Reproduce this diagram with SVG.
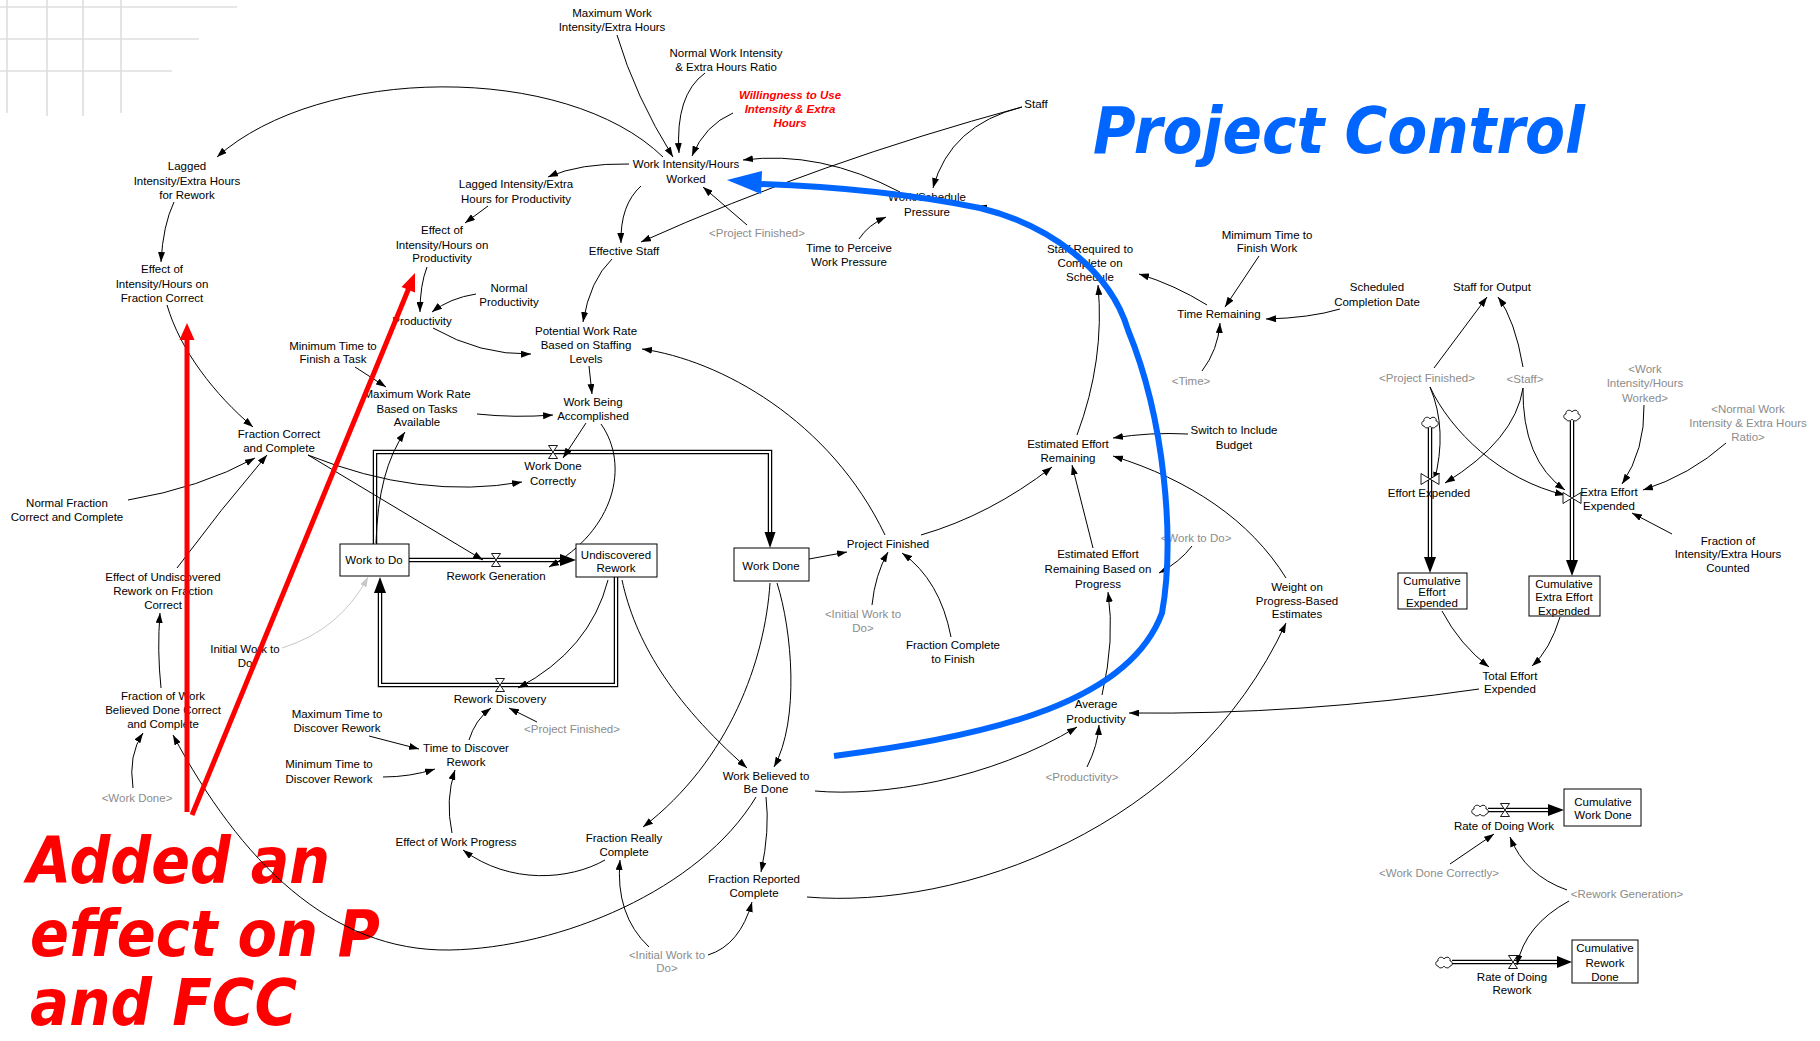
<svg xmlns="http://www.w3.org/2000/svg" width="1820" height="1041" viewBox="0 0 1820 1041">
<defs>
<style>
.t{font-family:"Liberation Sans",Arial,sans-serif;font-size:11.5px;fill:#000;text-anchor:middle}
.g{fill:#8c8c8c}
.w{fill:#ff0000;font-weight:bold;font-style:italic}
.c{fill:none;stroke:#000;stroke-width:1;marker-end:url(#ah)}
.cg{fill:none;stroke:#c8c8c8;stroke-width:1;marker-end:url(#ahg)}
.po{fill:none;stroke:#000;stroke-width:4.5}
.pi{fill:none;stroke:#fff;stroke-width:2}
.box{fill:#fff;stroke:#000;stroke-width:1}
.vl{fill:#fff;stroke:#000;stroke-width:0.9}
.big{font-family:"DejaVu Sans",Verdana,sans-serif;font-weight:bold;font-style:italic}
.grid{stroke:#dedede;stroke-width:1.6;fill:none}
</style>
<marker id="ah" viewBox="0 0 10 7" refX="10" refY="3.5" markerWidth="10" markerHeight="7" markerUnits="userSpaceOnUse" orient="auto"><path d="M0,0 L10,3.5 L0,7 z" fill="#000"/></marker>
<marker id="ahg" viewBox="0 0 10 7" refX="10" refY="3.5" markerWidth="10" markerHeight="7" markerUnits="userSpaceOnUse" orient="auto"><path d="M0,0 L10,3.5 L0,7 z" fill="#c8c8c8"/></marker>
<path id="cloud" class="vl" d="M-6,4 C-9,4 -9,-1 -6,-1 C-7,-5 -1,-6 0,-3 C2,-6 7,-5 6,-1 C9,-1 9,4 6,4 C5,7 1,6 0,4 C-1,6 -5,7 -6,4 Z"/>
<path id="vh" class="vl" d="M-4.5,-6.5 L4.5,-6.5 L-4.5,6.5 L4.5,6.5 Z"/>
<path id="vv" class="vl" d="M-9,-5.5 L-9,5.5 L9,-5.5 L9,5.5 Z"/>
</defs>
<rect width="1820" height="1041" fill="#fff"/>

<g id="grid">
<path class="grid" d="M7,0 V113 M47,0 V116 M83,0 V116 M121,0 V113 M0,7 H237 M0,39 H199 M0,71 H172"/>
</g>

<g id="annotation-text">
<text class="big" x="27" y="883" font-size="64" fill="#ff0000" textLength="303" lengthAdjust="spacingAndGlyphs">Added an</text>
<text class="big" x="30" y="956" font-size="64" fill="#ff0000" textLength="350" lengthAdjust="spacingAndGlyphs">effect on P</text>
<text class="big" x="30" y="1025" font-size="64" fill="#ff0000" textLength="267" lengthAdjust="spacingAndGlyphs">and FCC</text>
<text class="big" x="1093" y="153" font-size="64" fill="#0066ff" textLength="492" lengthAdjust="spacingAndGlyphs">Project Control</text>
</g>

<g id="flows">
<path class="po" d="M375,544 L375,452 L770,452 L770,532"/><path class="pi" d="M375,544 L375,452 L770,452 L770,533"/>
<polygon points="770,548 764.5,532 775.5,532" fill="#000"/>
<path class="po" d="M409,560 L560,560"/><path class="pi" d="M409,560 L561,560"/>
<polygon points="576,560 560,554 560,566" fill="#000"/>
<path class="po" d="M616,577 L616,685 L380,685 L380,593"/><path class="pi" d="M616,577 L616,685 L380,685 L380,592"/>
<polygon points="380,577 374,593 386,593" fill="#000"/>
<path class="po" d="M1430,428 L1430,557"/><path class="pi" d="M1430,428 L1430,558"/>
<polygon points="1430,573 1424,557 1436,557" fill="#000"/>
<path class="po" d="M1572,421 L1572,560"/><path class="pi" d="M1572,421 L1572,561"/>
<polygon points="1572,576 1566,560 1578,560" fill="#000"/>
<path class="po" d="M1488,810 L1548,810"/><path class="pi" d="M1488,810 L1549,810"/>
<polygon points="1564,810 1548,804 1548,816" fill="#000"/>
<path class="po" d="M1452,962 L1557,962"/><path class="pi" d="M1452,962 L1558,962"/>
<polygon points="1572,962 1557,956 1557,968" fill="#000"/>
<use href="#cloud" x="1430" y="422"/>
<use href="#cloud" x="1572" y="415"/>
<use href="#cloud" x="1480" y="810"/>
<use href="#cloud" x="1444" y="962"/>
</g>

<g id="connectors">
<path class="c" d="M663,157 C565,62 320,65 217,157"/>
<path class="c" d="M174,202 Q163,225 161,262"/>
<path class="c" d="M167,305 C180,350 215,395 253,427"/>
<path class="c" d="M128,500 Q200,488 255,458"/>
<path class="c" d="M177,568 Q220,510 267,455"/>
<path class="c" d="M161,688 Q157,650 160,613"/>
<path class="c" d="M133,788 Q128,755 143,733"/>
<path class="c" d="M756,797 C700,890 560,948 450,950 C330,952 240,860 173,735"/>
<path class="c" d="M617,35 Q635,96 673,157"/>
<path class="c" d="M705,73 Q675,95 679,153"/>
<path class="c" d="M733,113 Q705,125 692,156"/>
<path class="c" d="M629,164 Q580,163 548,177"/>
<path class="c" d="M488,206 L465,223"/>
<path class="c" d="M427,267 Q420,285 420,312"/>
<path class="c" d="M476,294 Q450,298 432,312"/>
<path class="c" d="M433,328 Q480,355 531,354"/>
<path class="c" d="M641,186 Q620,205 621,243"/>
<path class="c" d="M1022,107 Q819,162 641,242"/>
<path class="c" d="M1022,107 Q950,125 933,188"/>
<path class="c" d="M900,192 Q820,150 743,160"/>
<path class="c" d="M859,239 Q868,225 886,217"/>
<path class="c" d="M747,225 L703,187"/>
<path class="c" d="M1060,243 Q1020,215 977,206"/>
<path class="c" d="M612,259 Q590,280 583,322"/>
<path class="c" d="M589,366 L592,394"/>
<path class="c" d="M477,414 Q515,418 553,415"/>
<path class="c" d="M355,367 L386,387"/>
<path class="c" d="M376,543 Q378,470 405,432"/>
<path class="c" d="M586,423 L563,458"/>
<path class="c" d="M308,455 Q420,500 522,482"/>
<path class="c" d="M308,455 L483,560"/>
<path class="c" d="M601,424 C630,465 615,530 549,567"/>
<path class="cg" d="M282,648 Q340,630 368,577"/>
<path class="c" d="M809,559 L847,552"/>
<path class="c" d="M872,605 Q875,575 888,552"/>
<path class="c" d="M951,637 Q940,580 902,553"/>
<path class="c" d="M885,535 C830,420 720,360 642,349"/>
<path class="c" d="M921,535 Q990,515 1052,467"/>
<path class="c" d="M1077,435 Q1105,360 1098,285"/>
<path class="c" d="M1207,305 Q1175,285 1139,274"/>
<path class="c" d="M1259,256 L1225,307"/>
<path class="c" d="M1340,309 Q1310,318 1266,319"/>
<path class="c" d="M1202,371 Q1218,350 1220,323"/>
<path class="c" d="M1188,434 Q1150,432 1113,438"/>
<path class="c" d="M1286,578 C1250,520 1190,480 1113,456"/>
<path class="c" d="M1093,548 L1072,465"/>
<path class="c" d="M1192,546 Q1180,562 1159,573"/>
<path class="c" d="M1102,695 Q1115,640 1108,592"/>
<path class="c" d="M807,897 C960,910 1190,830 1286,623"/>
<path class="c" d="M815,791 C880,797 990,780 1077,727"/>
<path class="c" d="M1087,767 Q1098,745 1099,725"/>
<path class="c" d="M1479,689 Q1300,715 1129,713"/>
<path class="c" d="M1434,368 L1487,297"/>
<path class="c" d="M1523,367 Q1515,320 1498,297"/>
<path class="c" d="M1430,387 Q1448,430 1434,482"/>
<path class="c" d="M1430,387 C1450,430 1500,480 1565,495"/>
<path class="c" d="M1523,388 Q1515,440 1445,483"/>
<path class="c" d="M1523,388 Q1522,460 1565,490"/>
<path class="c" d="M1644,405 Q1645,450 1622,484"/>
<path class="c" d="M1726,443 Q1690,475 1643,490"/>
<path class="c" d="M1672,534 L1632,513"/>
<path class="c" d="M1442,611 Q1460,645 1489,667"/>
<path class="c" d="M1560,617 Q1550,650 1532,666"/>
<path class="c" d="M1450,864 L1494,834"/>
<path class="c" d="M1567,890 Q1525,875 1510,837"/>
<path class="c" d="M1569,901 Q1525,925 1517,965"/>
<path class="c" d="M608,580 Q590,650 518,688"/>
<path class="c" d="M369,736 L419,749"/>
<path class="c" d="M383,777 Q410,777 435,769"/>
<path class="c" d="M469,740 Q475,720 491,708"/>
<path class="c" d="M537,722 L509,708"/>
<path class="c" d="M452,833 Q445,800 455,770"/>
<path class="c" d="M605,860 C570,880 510,885 463,850"/>
<path class="c" d="M770,583 C765,660 730,760 643,827"/>
<path class="c" d="M777,583 C792,630 800,720 774,767"/>
<path class="c" d="M622,580 C635,640 670,700 747,768"/>
<path class="c" d="M766,797 Q770,830 761,872"/>
<path class="c" d="M649,947 Q615,915 620,860"/>
<path class="c" d="M708,955 Q740,945 752,902"/>
</g>

<g id="valves">
<use href="#vh" x="553" y="452"/>
<use href="#vh" x="496" y="560"/>
<use href="#vh" x="500" y="685"/>
<use href="#vv" x="1430" y="479"/>
<use href="#vv" x="1572" y="498"/>
<use href="#vh" x="1505" y="810"/>
<use href="#vh" x="1513" y="962"/>
</g>

<g id="lagged-rework"><text class="t"><tspan x="187" y="170">Lagged</tspan><tspan x="187" y="185">Intensity/Extra Hours</tspan><tspan x="187" y="199">for Rework</tspan></text></g>
<g id="effect-ih-fc"><text class="t"><tspan x="162" y="273">Effect of</tspan><tspan x="162" y="288">Intensity/Hours on</tspan><tspan x="162" y="302">Fraction Correct</tspan></text></g>
<g id="max-wieh"><text class="t"><tspan x="612" y="17">Maximum Work</tspan><tspan x="612" y="31">Intensity/Extra Hours</tspan></text></g>
<g id="normal-wieh"><text class="t"><tspan x="726" y="57">Normal Work Intensity</tspan><tspan x="726" y="71">&amp; Extra Hours Ratio</tspan></text></g>
<g id="willingness"><text class="t w"><tspan x="790" y="99">Willingness to Use</tspan><tspan x="790" y="113">Intensity &amp; Extra</tspan><tspan x="790" y="127">Hours</tspan></text></g>
<g id="wihw"><text class="t"><tspan x="686" y="168">Work Intensity/Hours</tspan><tspan x="686" y="183">Worked</tspan></text></g>
<g id="lagged-prod"><text class="t"><tspan x="516" y="188">Lagged Intensity/Extra</tspan><tspan x="516" y="203">Hours for Productivity</tspan></text></g>
<g id="effect-ih-prod"><text class="t"><tspan x="442" y="234">Effect of</tspan><tspan x="442" y="249">Intensity/Hours on</tspan><tspan x="442" y="262">Productivity</tspan></text></g>
<g id="effective-staff"><text class="t" x="624" y="255">Effective Staff</text></g>
<g id="pf-shadow1"><text class="t g" x="757" y="237">&lt;Project Finished&gt;</text></g>
<g id="time-perceive"><text class="t"><tspan x="849" y="252">Time to Perceive</tspan><tspan x="849" y="266">Work Pressure</tspan></text></g>
<g id="staff"><text class="t" x="1036" y="108">Staff</text></g>
<g id="ws-pressure"><text class="t"><tspan x="927" y="201">Work/Schedule</tspan><tspan x="927" y="216">Pressure</tspan></text></g>
<g id="staff-required"><text class="t"><tspan x="1090" y="253">Staff Required to</tspan><tspan x="1090" y="267">Complete on</tspan><tspan x="1090" y="281">Schedule</tspan></text></g>
<g id="min-time-finish-work"><text class="t"><tspan x="1267" y="239">Mimimum Time to</tspan><tspan x="1267" y="252">Finish Work</tspan></text></g>
<g id="time-remaining"><text class="t" x="1219" y="318">Time Remaining</text></g>
<g id="scheduled"><text class="t"><tspan x="1377" y="291">Scheduled</tspan><tspan x="1377" y="306">Completion Date</tspan></text></g>
<g id="staff-output"><text class="t" x="1492" y="291">Staff for Output</text></g>
<g id="normal-prod"><text class="t"><tspan x="509" y="292">Normal</tspan><tspan x="509" y="306">Productivity</tspan></text></g>
<g id="productivity"><text class="t" x="422" y="325">Productivity</text></g>
<g id="potential"><text class="t"><tspan x="586" y="335">Potential Work Rate</tspan><tspan x="586" y="349">Based on Staffing</tspan><tspan x="586" y="363">Levels</tspan></text></g>
<g id="min-time-task"><text class="t"><tspan x="333" y="350">Minimum Time to</tspan><tspan x="333" y="363">Finish a Task</tspan></text></g>
<g id="max-work-rate"><text class="t"><tspan x="417" y="398">Maximum Work Rate</tspan><tspan x="417" y="413">Based on Tasks</tspan><tspan x="417" y="426">Available</tspan></text></g>
<g id="wba"><text class="t"><tspan x="593" y="406">Work Being</tspan><tspan x="593" y="420">Accomplished</tspan></text></g>
<g id="wdc"><text class="t"><tspan x="553" y="470">Work Done</tspan><tspan x="553" y="485">Correctly</tspan></text></g>
<g id="fcc"><text class="t"><tspan x="279" y="438">Fraction Correct</tspan><tspan x="279" y="452">and Complete</tspan></text></g>
<g id="normal-fcc"><text class="t"><tspan x="67" y="507">Normal Fraction</tspan><tspan x="67" y="521">Correct and Complete</tspan></text></g>
<g id="effect-undisc"><text class="t"><tspan x="163" y="581">Effect of Undiscovered</tspan><tspan x="163" y="595">Rework on Fraction</tspan><tspan x="163" y="609">Correct</tspan></text></g>
<g id="work-to-do"><rect class="box" x="340" y="544" width="69" height="32"/><text class="t" x="374" y="564">Work to Do</text></g>
<g id="rework-gen"><text class="t" x="496" y="580">Rework Generation</text></g>
<g id="undisc"><rect class="box" x="576" y="544" width="81" height="33"/><text class="t"><tspan x="616" y="559">Undiscovered</tspan><tspan x="616" y="572">Rework</tspan></text></g>
<g id="work-done"><rect class="box" x="734" y="548" width="75" height="33"/><text class="t" x="771" y="570">Work Done</text></g>
<g id="initial-wtd"><text class="t"><tspan x="245" y="653">Initial Work to</tspan><tspan x="245" y="667">Do</tspan></text></g>
<g id="project-finished"><text class="t" x="888" y="548">Project Finished</text></g>
<g id="iwtd-shadow1"><text class="t g"><tspan x="863" y="618">&lt;Initial Work to</tspan><tspan x="863" y="632">Do&gt;</tspan></text></g>
<g id="fcf"><text class="t"><tspan x="953" y="649">Fraction Complete</tspan><tspan x="953" y="663">to Finish</tspan></text></g>
<g id="eer"><text class="t"><tspan x="1068" y="448">Estimated Effort</tspan><tspan x="1068" y="462">Remaining</tspan></text></g>
<g id="switch"><text class="t"><tspan x="1234" y="434">Switch to Include</tspan><tspan x="1234" y="449">Budget</tspan></text></g>
<g id="time-shadow"><text class="t g" x="1191" y="385">&lt;Time&gt;</text></g>
<g id="eerbp"><text class="t"><tspan x="1098" y="558">Estimated Effort</tspan><tspan x="1098" y="573">Remaining Based on</tspan><tspan x="1098" y="588">Progress</tspan></text></g>
<g id="wtd-shadow"><text class="t g" x="1196" y="542">&lt;Work to Do&gt;</text></g>
<g id="weight"><text class="t"><tspan x="1297" y="591">Weight on</tspan><tspan x="1297" y="605">Progress-Based</tspan><tspan x="1297" y="618">Estimates</tspan></text></g>
<g id="pf-shadow2"><text class="t g" x="1427" y="382">&lt;Project Finished&gt;</text></g>
<g id="staff-shadow"><text class="t g" x="1525" y="383">&lt;Staff&gt;</text></g>
<g id="wihw-shadow"><text class="t g"><tspan x="1645" y="373">&lt;Work</tspan><tspan x="1645" y="387">Intensity/Hours</tspan><tspan x="1645" y="402">Worked&gt;</tspan></text></g>
<g id="nwi-shadow"><text class="t g"><tspan x="1748" y="413">&lt;Normal Work</tspan><tspan x="1748" y="427">Intensity &amp; Extra Hours</tspan><tspan x="1748" y="441">Ratio&gt;</tspan></text></g>
<g id="effort-expended"><text class="t" x="1429" y="497">Effort Expended</text></g>
<g id="extra-effort"><text class="t"><tspan x="1609" y="496">Extra Effort</tspan><tspan x="1609" y="510">Expended</tspan></text></g>
<g id="fic"><text class="t"><tspan x="1728" y="545">Fraction of</tspan><tspan x="1728" y="558">Intensity/Extra Hours</tspan><tspan x="1728" y="572">Counted</tspan></text></g>
<g id="cum-effort"><rect class="box" x="1398" y="573" width="69" height="36"/><text class="t"><tspan x="1432" y="585">Cumulative</tspan><tspan x="1432" y="596">Effort</tspan><tspan x="1432" y="607">Expended</tspan></text></g>
<g id="cum-extra"><rect class="box" x="1529" y="576" width="71" height="40"/><text class="t"><tspan x="1564" y="588">Cumulative</tspan><tspan x="1564" y="601">Extra Effort</tspan><tspan x="1564" y="615">Expended</tspan></text></g>
<g id="total-effort"><text class="t"><tspan x="1510" y="680">Total Effort</tspan><tspan x="1510" y="693">Expended</tspan></text></g>
<g id="avg-prod"><text class="t"><tspan x="1096" y="708">Average</tspan><tspan x="1096" y="723">Productivity</tspan></text></g>
<g id="prod-shadow"><text class="t g" x="1082" y="781">&lt;Productivity&gt;</text></g>
<g id="fwbdcc"><text class="t"><tspan x="163" y="700">Fraction of Work</tspan><tspan x="163" y="714">Believed Done Correct</tspan><tspan x="163" y="728">and Complete</tspan></text></g>
<g id="wd-shadow"><text class="t g" x="137" y="802">&lt;Work Done&gt;</text></g>
<g id="rework-discovery"><text class="t" x="500" y="703">Rework Discovery</text></g>
<g id="pf-shadow3"><text class="t g" x="572" y="733">&lt;Project Finished&gt;</text></g>
<g id="max-time-disc"><text class="t"><tspan x="337" y="718">Maximum Time to</tspan><tspan x="337" y="732">Discover Rework</tspan></text></g>
<g id="min-time-disc"><text class="t"><tspan x="329" y="768">Minimum Time to</tspan><tspan x="329" y="783">Discover Rework</tspan></text></g>
<g id="ttd"><text class="t"><tspan x="466" y="752">Time to Discover</tspan><tspan x="466" y="766">Rework</tspan></text></g>
<g id="ewp"><text class="t" x="456" y="846">Effect of Work Progress</text></g>
<g id="frc"><text class="t"><tspan x="624" y="842">Fraction Really</tspan><tspan x="624" y="856">Complete</tspan></text></g>
<g id="wbtbd"><text class="t"><tspan x="766" y="780">Work Believed to</tspan><tspan x="766" y="793">Be Done</tspan></text></g>
<g id="frpc"><text class="t"><tspan x="754" y="883">Fraction Reported</tspan><tspan x="754" y="897">Complete</tspan></text></g>
<g id="iwtd-shadow2"><text class="t g"><tspan x="667" y="959">&lt;Initial Work to</tspan><tspan x="667" y="972">Do&gt;</tspan></text></g>
<g id="rate-work"><text class="t" x="1504" y="830">Rate of Doing Work</text></g>
<g id="cum-work"><rect class="box" x="1564" y="789" width="77" height="37"/><text class="t"><tspan x="1603" y="806">Cumulative</tspan><tspan x="1603" y="819">Work Done</tspan></text></g>
<g id="wdc-shadow"><text class="t g" x="1439" y="877">&lt;Work Done Correctly&gt;</text></g>
<g id="rg-shadow"><text class="t g" x="1627" y="898">&lt;Rework Generation&gt;</text></g>
<g id="rate-rework"><text class="t"><tspan x="1512" y="981">Rate of Doing</tspan><tspan x="1512" y="994">Rework</tspan></text></g>
<g id="cum-rework"><rect class="box" x="1572" y="940" width="66" height="43"/><text class="t"><tspan x="1605" y="952">Cumulative</tspan><tspan x="1605" y="967">Rework</tspan><tspan x="1605" y="981">Done</tspan></text></g>

<g id="annotation-arrows">
<line x1="187" y1="812" x2="187" y2="338" stroke="#ff0000" stroke-width="5"/>
<polygon points="187,323 179.5,340 194.5,340" fill="#ff0000"/>
<line x1="192" y1="815" x2="408.5" y2="289" stroke="#ff0000" stroke-width="5"/>
<polygon points="415,273 415,292.5 401.5,287" fill="#ff0000"/>
<path d="M834,756 C1000,735 1130,700 1162,613 C1175,540 1165,420 1128,330 C1110,270 1050,225 980,208 Q880,188 760,184" fill="none" stroke="#0066ff" stroke-width="6"/>
<polygon points="727,180 762,171 761,194" fill="#0066ff"/>
</g>
</svg>
